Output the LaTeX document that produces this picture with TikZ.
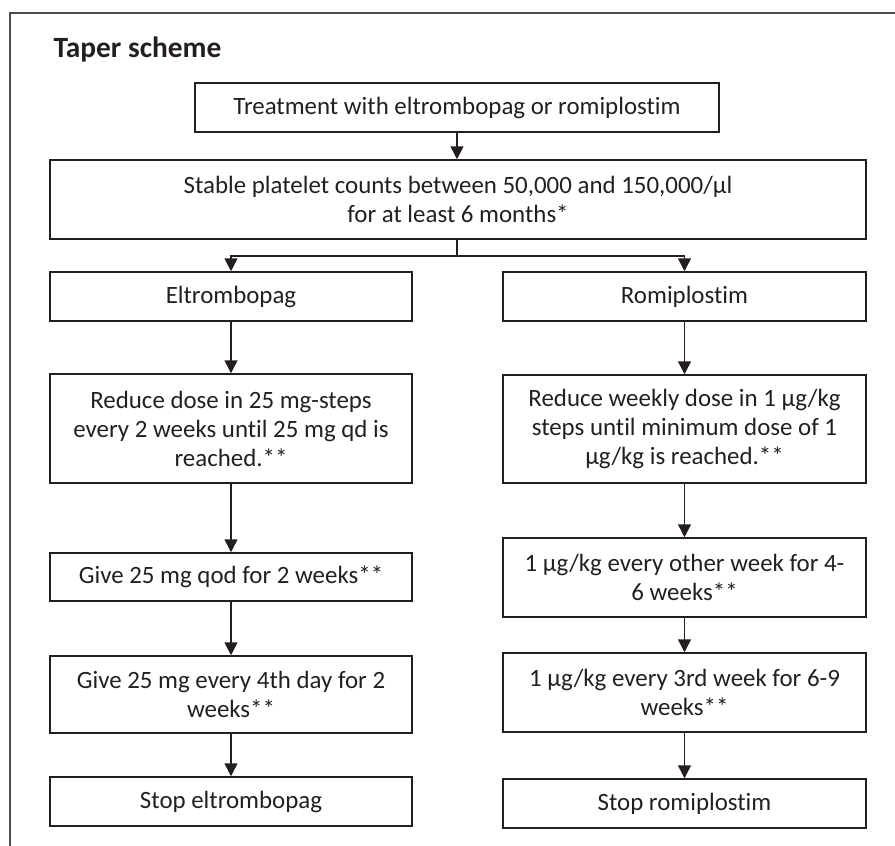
\documentclass[tikz,border=0pt]{standalone}
\usepackage{fontspec}
\setmainfont{Carlito}[Ligatures=NoCommon]
\usetikzlibrary{arrows.meta}
\definecolor{ink}{HTML}{231F20}
\tikzset{
  box/.style={draw=ink, line width=1.5pt, text=ink, align=center, inner sep=0pt,
    font=\fontsize{24.9}{29}\selectfont},
  arr/.style={draw=ink, line width=1.5pt, -{Triangle[length=13pt,width=13pt]}},
  link/.style={draw=ink, line width=1.5pt},
}
\begin{document}
\begin{tikzpicture}[x=1pt,y=-1pt]
\useasboundingbox (0,0) rectangle (895,846);
\draw[line width=1.3pt, draw=black!70] (10,846) -- (10,13) -- (895,13);
\node[anchor=base west, text=ink, font=\fontsize{29.4}{35}\selectfont\bfseries] (title) at (50,57) {Taper scheme};

\node[box, minimum width=524pt, minimum height=49pt] (b1) at (457,107.5) {Treatment with eltrombopag or romiplostim};
\node[box, minimum width=816pt, minimum height=79pt] (b2) at (458,199.5) {Stable platelet counts between 50,000 and 150,000/µl\\for at least 6 months*};

\node[box, minimum width=362pt, minimum height=49pt] (eltro) at (231,296.5) {Eltrombopag};
\node[box, minimum width=363pt, minimum height=49pt] (romi) at (684.5,296.5) {Romiplostim};

\node[box, minimum width=362pt, minimum height=109pt] (redl) at (231,428.5) {Reduce dose in 25 mg-steps\\every 2 weeks until 25 mg qd is\\reached.**};
\node[box, minimum width=363pt, minimum height=108pt] (redr) at (684.5,429) {Reduce weekly dose in 1 µg/kg\\steps until minimum dose of 1\\µg/kg is reached.**};

\node[box, minimum width=362pt, minimum height=48pt] (givea) at (231,577) {Give 25 mg qod for 2 weeks**};
\node[box, minimum width=362pt, minimum height=77pt] (giveb) at (231,694.5) {Give 25 mg every 4th day for 2\\weeks**};
\node[box, minimum width=362pt, minimum height=49pt] (stopl) at (231,801.5) {Stop eltrombopag};

\node[box, minimum width=363pt, minimum height=79pt] (ra) at (684.5,577.5) {1 µg/kg every other week for 4-\\6 weeks**};
\node[box, minimum width=363pt, minimum height=79pt] (rb) at (684.5,692.5) {1 µg/kg every 3rd week for 6-9\\weeks**};
\node[box, minimum width=363pt, minimum height=49pt] (stopr) at (684.5,803.5) {Stop romiplostim};

\draw[arr] (b1.south) -- (b2.north -| b1.south);
\coordinate (split) at (457,256);
\draw[link] (b2.south -| split) -- (split);
\draw[arr] (split) -| (eltro.north);
\draw[arr] (split) -| (romi.north);

\draw[arr] (eltro.south) -- (redl.north);
\draw[arr] (redl.south) -- (givea.north);
\draw[arr] (givea.south) -- (giveb.north);
\draw[arr] (giveb.south) -- (stopl.north);

\draw[arr] (romi.south) -- (redr.north);
\draw[arr] (redr.south) -- (ra.north);
\draw[arr] (ra.south) -- (rb.north);
\draw[arr] (rb.south) -- (stopr.north);
\end{tikzpicture}
\end{document}
